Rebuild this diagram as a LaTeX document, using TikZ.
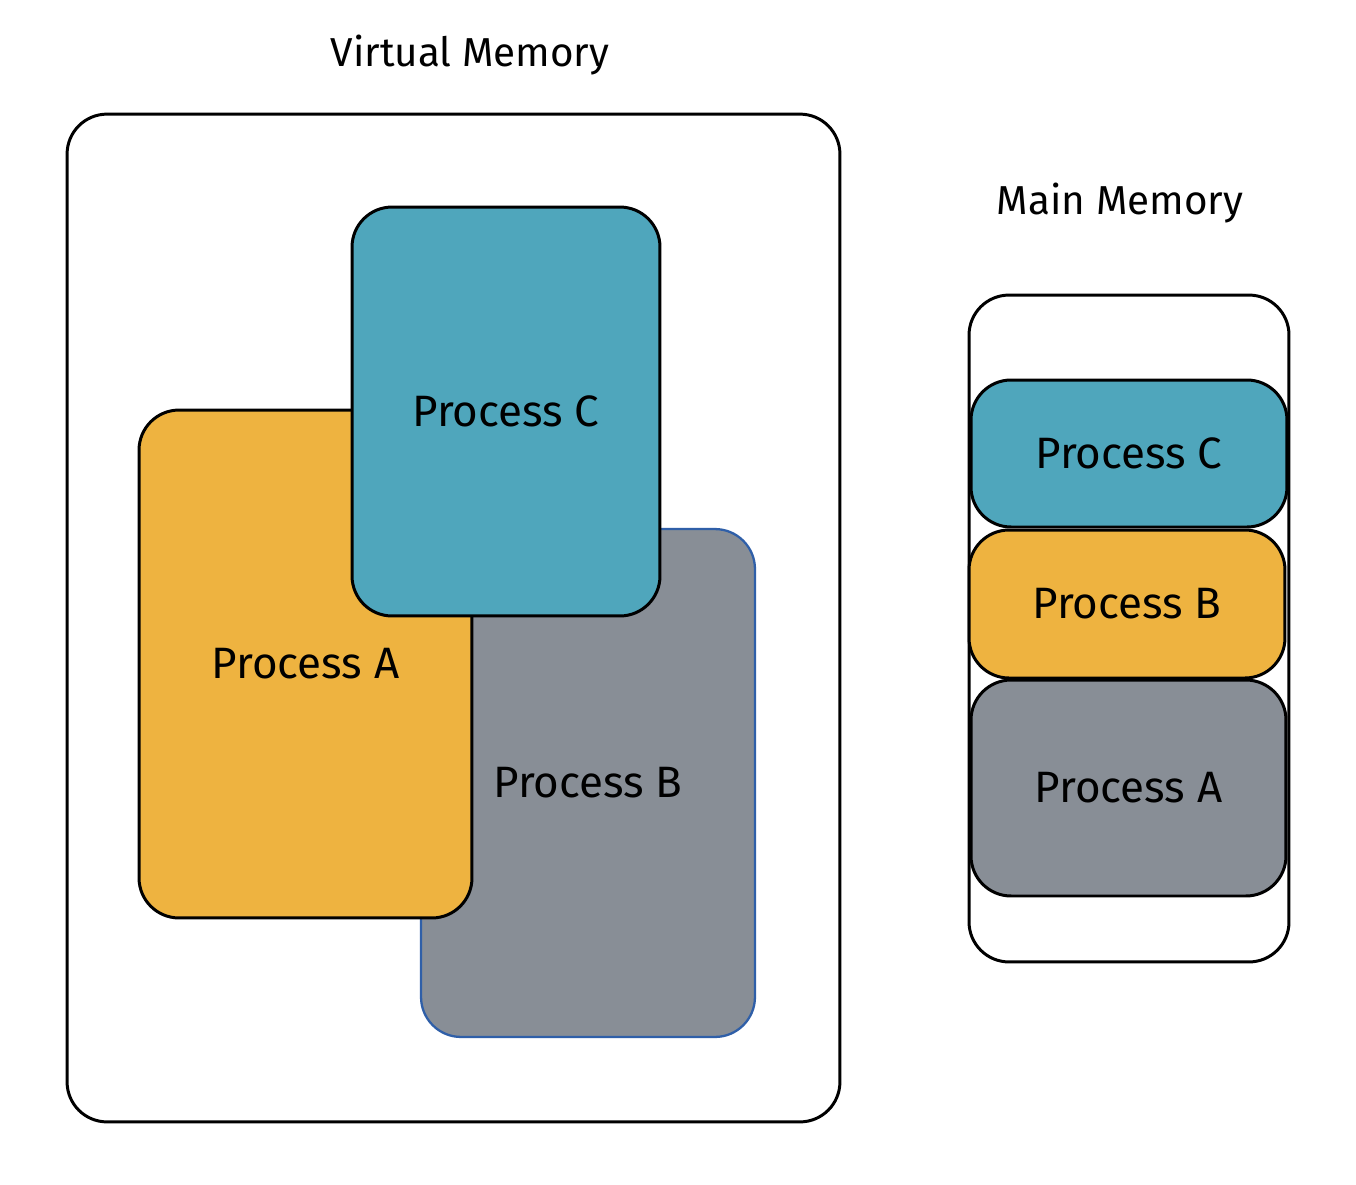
\documentclass[tikz,border=0pt]{standalone}
\usepackage{fontspec}
\setmainfont{Fira Sans}
\usepackage{xcolor}
\usepackage{tikz}
\usetikzlibrary{positioning}
\definecolor{procteal}{RGB}{79, 166, 188}
\definecolor{procgold}{RGB}{238, 179, 64}
\definecolor{procgrey}{RGB}{136, 142, 150}
\definecolor{edgeblue}{RGB}{47, 95, 168}

\begin{document}
\begin{tikzpicture}[x=0.02cm, y=-0.02cm,
    memframe/.style={draw=black, line width=1.7pt, rounded corners=0.8cm, fill=white, inner sep=0pt, outer sep=0pt},
    procbox/.style={draw=black, line width=1.7pt, rounded corners=0.8cm, inner sep=0pt, outer sep=0pt, font=\fontsize{25}{28}\selectfont},
    memtitle/.style={font=\fontsize{23}{26}\selectfont}]
    % Page frame
    \useasboundingbox (0,0) rectangle (1356,1184);

    % Virtual Memory (left)
    \node[memtitle] (vtitle) at (470,55) {Virtual Memory};
    \node[memframe, minimum width=15.46cm, minimum height=20.16cm] (virt) at (453.5,618) {};

    % Overlapping processes: B below, A, then C on top
    \node[procbox, draw=edgeblue, line width=1.3pt, fill=procgrey, minimum width=6.68cm, minimum height=10.16cm] (vB) at (588,783) {Process B};
    \node[procbox, fill=procgold, minimum width=6.66cm, minimum height=10.16cm] (vA) at (305.5,664) {Process A};
    \node[procbox, fill=procteal, minimum width=6.16cm, minimum height=8.18cm] (vC) at (506,411.5) {Process C};

    % Main Memory (right)
    \node[memtitle] (mtitle) at (1120,203) {Main Memory};
    \node[memframe, minimum width=6.4cm, minimum height=13.34cm] (mainmem) at (1129,628.5) {};

    % Stacked processes
    \node[procbox, fill=procteal, minimum width=6.32cm, minimum height=2.94cm] (mC) at (1129,453.5) {Process C};
    \node[procbox, fill=procgold, minimum width=6.32cm, minimum height=2.96cm] (mB) at (1127,604) {Process B};
    \node[procbox, fill=procgrey, minimum width=6.3cm, minimum height=4.32cm] (mA) at (1128.5,788) {Process A};
\end{tikzpicture}
\end{document}
